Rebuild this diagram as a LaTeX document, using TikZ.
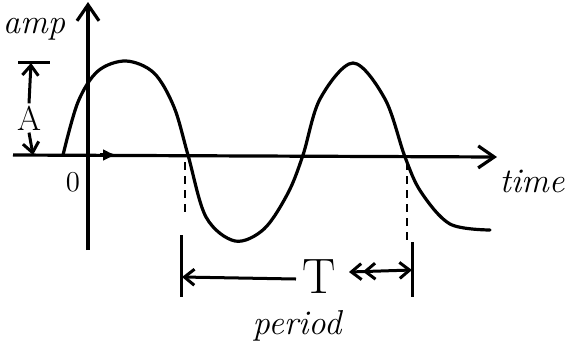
\documentclass[tikz,border=0pt]{standalone}
\usepackage{tikz}
\usetikzlibrary{arrows.meta}

\begin{document}
\begin{tikzpicture}[x=0.5pt, y=-0.5pt,
  axis/.style={line width=1.6pt, -{Straight Barb[length=8pt, width=11pt, line width=1.6pt]}},
  wave/.style={line width=1.6pt, line cap=round, line join=round},
  dimarr/.style={line width=1.5pt, -{Straight Barb[length=5pt, width=8pt, line width=1.5pt]}},
  guide/.style={line width=1pt, dashed, dash pattern=on 4pt off 3pt},
  tick/.style={line width=1.5pt},
  lbl/.style={font=\LARGE\itshape, inner sep=0pt},
  sym/.style={font=\Huge, inner sep=1pt}
]
  \useasboundingbox (0,0) rectangle (572,360);

  % axes
  \coordinate (o) at (88,155);
  \coordinate (ytop) at (88,2);
  \coordinate (ybot) at (88,250);
  \coordinate (xl) at (13,155);
  \coordinate (xr) at (497,157);
  \draw[axis] (ybot) -- (ytop);
  \draw[axis] (xl) -- (xr);
  \coordinate (mk1) at (100,155);
  \coordinate (mk2) at (117,155);
  \draw[line width=1.6pt, -{Latex[length=7pt, width=6pt]}] (mk1) -- (mk2);

  \node[lbl] (amp) at (34,29) {amp};
  \node[lbl] (time) at (532,181) {time};
  \node[font=\Large, inner sep=0pt] (zero) at (73,182) {0};

  % amplitude
  \node[sym, font=\LARGE] (alab) at (29,118) {A};
  \coordinate (atop) at (31,63);
  \coordinate (abot) at (33,155);
  \coordinate (bar1) at (18,62);
  \coordinate (bar2) at (50,62);
  \draw[tick] (bar1) -- (bar2);
  \draw[dimarr] (alab.north) -- (atop);
  \draw[dimarr] (alab.south) -- (abot);

  % the wave
  \draw[wave] plot[smooth, tension=0.55] coordinates {
    (63,155) (78,102) (98,71) (126,61) (154,73) (174,107) (188,155)
    (206,217) (235,241) (264,229) (288,193) (303,155)
    (320,99) (353,63) (385,99) (405,157)
    (421,192) (450,224) (490,230)};

  % period
  \coordinate (d1a) at (185,162);
  \coordinate (d1b) at (185,215);
  \coordinate (d2a) at (407,162);
  \coordinate (d2b) at (407,240);
  \draw[guide] (d1a) -- (d1b);
  \draw[guide] (d2a) -- (d2b);
  \coordinate (t1a) at (181,235);
  \coordinate (t1b) at (181,297);
  \coordinate (t2a) at (412,242);
  \coordinate (t2b) at (412,297);
  \draw[tick] (t1a) -- (t1b);
  \draw[tick] (t2a) -- (t2b);
  \node[sym] (T) at (319,277) {T};
  \coordinate (pl) at (182,277);
  \coordinate (pr) at (412,270);
  \coordinate (pm) at (349,272);
  \coordinate (tw) at (296,279);
  \draw[dimarr] (tw) -- (pl);
  \draw[line width=1.5pt, {Straight Barb[length=5pt, width=8pt, line width=1.5pt]Straight Barb[length=5pt, width=8pt, line width=1.5pt]}-{Straight Barb[length=5pt, width=8pt, line width=1.5pt]}] (pm) -- (pr);
  \node[lbl] (period) at (297,326) {period};
\end{tikzpicture}
\end{document}
